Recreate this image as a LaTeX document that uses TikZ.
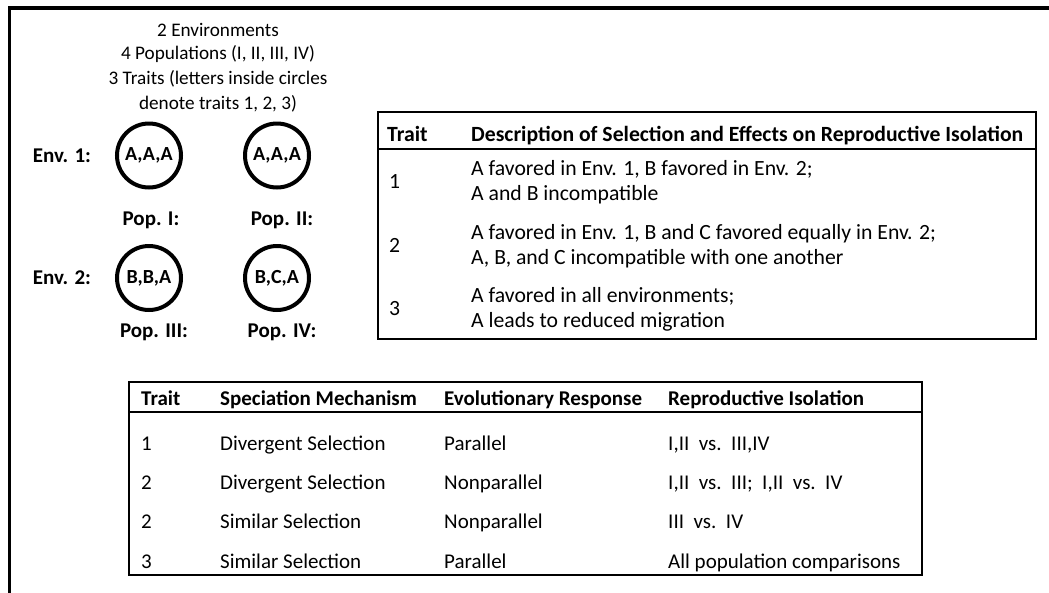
\documentclass[tikz,border=0pt]{standalone}
\usepackage{fontspec}
\setmainfont{Carlito}
\begin{document}
\begin{tikzpicture}[x=1pt,y=-1pt,
  every node/.style={inner sep=0pt, font=\fontsize{21}{25}\selectfont},
  ttl/.style={anchor=base, font=\fontsize{19.2}{23}\selectfont},
  ttxt/.style={anchor=base west, font=\fontsize{21.7}{26}\selectfont},
  thd/.style={anchor=base west, font=\fontsize{21.7}{26}\selectfont\bfseries},
  btxt/.style={anchor=base west, font=\fontsize{21}{25}\selectfont},
  bhd/.style={anchor=base west, font=\fontsize{21}{25}\selectfont\bfseries},
  bl/.style={anchor=base, font=\fontsize{21}{25}\selectfont\bfseries},
  pop/.style={circle, draw, line width=4pt, minimum size=64pt, font=\fontsize{20}{24}\selectfont\bfseries},
  frame/.style={draw, line width=1.3pt}]
\useasboundingbox (0,0) rectangle (1049,592);
\begin{scope}
  \clip (0,0) rectangle (1049,592);
  \draw[line width=3.8pt] (9.5,8) rectangle (1200,700);
\end{scope}
% title
\node[ttl] (t1) at (218,36.5) {2 Environments};
\node[ttl] (t2) at (218,59) {4 Populations (I, II, III, IV)};
\node[ttl] (t3) at (218,84.5) {3 Traits (letters inside circles};
\node[ttl] (t4) at (218,109.5) {denote traits 1, 2, 3)};
% populations
\node[bl] (e1) at (62,162) {Env. 1:};
\node[bl] (e2) at (62,284.5) {Env. 2:};
\node[pop] (p1) at (149,155.5) {A,A,A};
\node[pop] (p2) at (277,155.5) {A,A,A};
\node[pop] (p3) at (149,278) {B,B,A};
\node[pop] (p4) at (277,278) {B,C,A};
\node[bl] (l1) at (151,225) {Pop. I:};
\node[bl] (l2) at (282,225) {Pop. II:};
\node[bl] (l3) at (154,337.5) {Pop. III:};
\node[bl] (l4) at (282,337.5) {Pop. IV:};
% top table
\draw[frame] (378,112) rectangle (1036,339);
\draw[frame] (378,149) -- (1036,149);
\node[thd] (th1) at (387,141) {Trait};
\node[thd] (th2) at (471,141) {Description of Selection and Effects on Reproductive Isolation};
\node[ttxt] (r1n) at (389,188) {1};
\node[ttxt] (r1a) at (471,175.5) {A favored in Env. 1, B favored in Env. 2;};
\node[ttxt] (r1b) at (471,200.5) {A and B incompatible};
\node[ttxt] (r2n) at (389,252) {2};
\node[ttxt] (r2a) at (471,239.5) {A favored in Env. 1, B and C favored equally in Env. 2;};
\node[ttxt] (r2b) at (471,264.5) {A, B, and C incompatible with one another};
\node[ttxt] (r3n) at (389,315) {3};
\node[ttxt] (r3a) at (471,302.5) {A favored in all environments;};
\node[ttxt] (r3b) at (471,327.5) {A leads to reduced migration};
% bottom table
\draw[frame] (129,382) rectangle (922,575);
\draw[frame] (129,412) -- (922,412);
\node[bhd] (bh1) at (141,405) {Trait};
\node[bhd] (bh2) at (220,405) {Speciation Mechanism};
\node[bhd] (bh3) at (444,405) {Evolutionary Response};
\node[bhd] (bh4) at (668,405) {Reproductive Isolation};
\node[btxt] (a1) at (141,450) {1};
\node[btxt] (a2) at (220,450) {Divergent Selection};
\node[btxt] (a3) at (444,450) {Parallel};
\node[btxt] (a4) at (668,450) {I,II\ \ vs.\ \ III,IV};
\node[btxt] (b1) at (141,489.3) {2};
\node[btxt] (b2) at (220,489.3) {Divergent Selection};
\node[btxt] (b3) at (444,489.3) {Nonparallel};
\node[btxt] (b4) at (668,489.3) {I,II\ \ vs.\ \ III;\ \ I,II\ \ vs.\ \ IV};
\node[btxt] (c1) at (141,528.7) {2};
\node[btxt] (c2) at (220,528.7) {Similar Selection};
\node[btxt] (c3) at (444,528.7) {Nonparallel};
\node[btxt] (c4) at (668,528.7) {III\ \ vs.\ \ IV};
\node[btxt] (d1) at (141,568) {3};
\node[btxt] (d2) at (220,568) {Similar Selection};
\node[btxt] (d3) at (444,568) {Parallel};
\node[btxt] (d4) at (668,568) {All population comparisons};
\end{tikzpicture}
\end{document}
